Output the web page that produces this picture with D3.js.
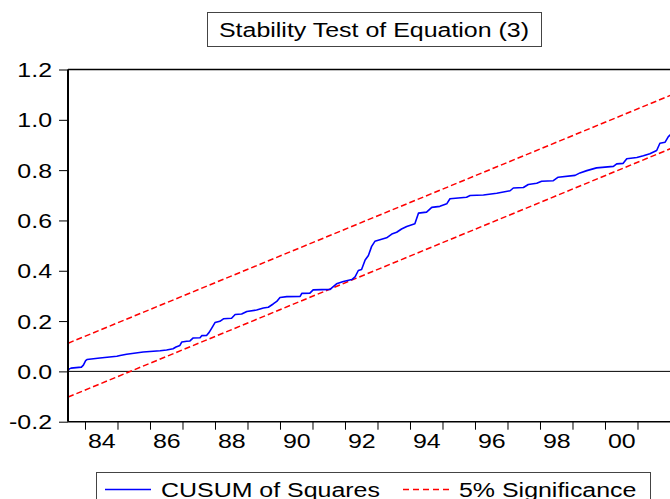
<!DOCTYPE html>
<html><head><meta charset="utf-8">
<script src="https://cdn.jsdelivr.net/npm/d3@7"></script>
<style>body{margin:0;background:#fff}svg{display:block}text{font-family:"Liberation Sans",Arial,sans-serif;fill:#000}</style>
</head><body>
<script>
// ---- data ----
const titleText = "Stability Test of Equation (3)";
const seriesNames = ["CUSUM of Squares", "5% Significance"];
const yTicks = [-0.2, 0.0, 0.2, 0.4, 0.6, 0.8, 1.0, 1.2];
const yearTicks = [1984,1985,1986,1987,1988,1989,1990,1991,1992,1993,1994,1995,1996,1997,1998,1999,2000,2001];
const yearLabels = [1984,1986,1988,1990,1992,1994,1996,1998,2000];
// CUSUM of squares (date as decimal year, value)
const cusumDates = [1983.49,1983.52,1983.57,1983.89,1983.95,1984.02,1984.06,1984.46,1984.98,1985.08,1985.28,1985.79,1986.31,1986.51,1986.71,1986.80,1986.92,1986.98,1987.13,1987.23,1987.33,1987.54,1987.59,1987.74,1987.82,1987.90,1988.00,1988.15,1988.26,1988.51,1988.62,1988.82,1988.98,1989.28,1989.49,1989.64,1989.79,1989.90,1990.00,1990.21,1990.62,1990.67,1990.92,1991.02,1991.54,1991.74,1991.95,1992.21,1992.31,1992.41,1992.51,1992.62,1992.72,1992.82,1992.92,1993.28,1993.44,1993.59,1993.74,1993.90,1994.15,1994.26,1994.51,1994.67,1994.92,1995.13,1995.23,1995.74,1995.85,1996.26,1996.67,1997.08,1997.18,1997.49,1997.64,1997.90,1998.05,1998.41,1998.56,1999.08,1999.23,1999.44,1999.74,2000.26,2000.36,2000.56,2000.67,2000.98,2001.18,2001.38,2001.59,2001.69,2001.85,2001.95,2002.05,2002.18];
const cusumValues = [0.005,0.010,0.013,0.017,0.025,0.043,0.047,0.053,0.060,0.063,0.068,0.077,0.082,0.085,0.090,0.097,0.103,0.117,0.120,0.121,0.133,0.134,0.142,0.143,0.155,0.172,0.194,0.199,0.209,0.211,0.226,0.228,0.238,0.244,0.252,0.255,0.268,0.278,0.294,0.297,0.298,0.310,0.311,0.324,0.326,0.348,0.357,0.365,0.376,0.401,0.405,0.443,0.461,0.497,0.517,0.531,0.546,0.553,0.566,0.576,0.587,0.629,0.633,0.652,0.656,0.666,0.686,0.692,0.699,0.701,0.708,0.718,0.729,0.731,0.743,0.748,0.756,0.758,0.772,0.779,0.789,0.798,0.809,0.815,0.825,0.827,0.845,0.850,0.857,0.865,0.878,0.907,0.911,0.933,0.945,1.000];
// 5% significance bounds (straight lines, endpoints)
const boundDates = [1983.48, 2002.18];
const upperValues = [0.112, 1.106];
const lowerValues = [-0.102, 0.894];

// ---- layout ----
const W = 670, H = 499;
const L = 68, R = 676, T = 69.5, B = 421.7;
const SX = 1.28, FS = 19.5;

const svg = d3.select("body").append("svg").attr("width", W).attr("height", H);
const x = d3.scaleLinear().domain([1983.477, 2002.185]).range([L, R]);
const y = d3.scaleLinear().domain([-0.2, 1.2]).range([B, T]);

svg.append("clipPath").attr("id","clip").append("rect").attr("x",L).attr("y",T).attr("width",R-L).attr("height",B-T);
const plot = svg.append("g").attr("clip-path","url(#clip)");

// zero line
plot.append("line").attr("x1",L).attr("x2",R).attr("y1",y(0)).attr("y2",y(0)).attr("stroke","#000").attr("stroke-width",1);

const bounds = [upperValues, lowerValues];
bounds.forEach(vals => {
  const pts = boundDates.map((d,i)=>[x(d), y(vals[i])]);
  plot.append("path").attr("d", d3.line()(pts)).attr("fill","none")
    .attr("stroke","#ff0000").attr("stroke-width",1.5).attr("stroke-dasharray","6,3");
});

const cpts = cusumDates.map((d,i)=>[x(d), y(cusumValues[i])]);
plot.append("path").attr("d", d3.line()(cpts)).attr("fill","none")
  .attr("stroke","#0000ff").attr("stroke-width",1.6).attr("stroke-linejoin","round");

// y axis
const ya = svg.append("g").attr("transform",`translate(${L},0)`)
  .call(d3.axisLeft(y).tickValues(yTicks).tickSize(9).tickPadding(3.5).tickFormat(d3.format(".1f")));
ya.select(".domain").remove();
ya.selectAll("line").attr("stroke","#000").attr("stroke-width",1);
ya.selectAll("text").attr("font-size",FS).attr("transform",`scale(${SX},1)`).attr("dy","0.36em")
  .text(d=> d<0 ? "-" + Math.abs(d).toFixed(1) : d.toFixed(1));

// x axis ticks
const xa = svg.append("g").attr("transform",`translate(0,${B})`)
  .call(d3.axisBottom(x).tickValues(yearTicks).tickSize(8).tickFormat(""));
xa.select(".domain").remove();
xa.selectAll("line").attr("stroke","#000").attr("stroke-width",1);
// x labels centered in the year
const xl = svg.append("g").attr("transform",`translate(0,${B})`)
  .call(d3.axisBottom(x).tickValues(yearLabels.map(v=>v+0.5)).tickSize(0).tickPadding(12.5)
    .tickFormat(d=>String(Math.floor(d)%100).padStart(2,"0")));
xl.select(".domain").remove();
xl.selectAll("text").attr("font-size",FS).attr("transform",`scale(${SX},1)`);

// frame
svg.append("line").attr("x1",L).attr("x2",R).attr("y1",T).attr("y2",T).attr("stroke","#000").attr("stroke-width",1.5);
svg.append("line").attr("x1",L).attr("x2",R).attr("y1",B).attr("y2",B).attr("stroke","#000").attr("stroke-width",1.5);
svg.append("line").attr("x1",L).attr("x2",L).attr("y1",T).attr("y2",B).attr("stroke","#000").attr("stroke-width",2);
svg.append("line").attr("x1",R).attr("x2",R).attr("y1",T).attr("y2",B).attr("stroke","#000").attr("stroke-width",1.5);

function stext(g, tx, ty, str, anchor){
  return g.append("text").attr("transform",`translate(${tx},${ty}) scale(${SX},1)`)
    .attr("text-anchor",anchor).attr("font-size",FS).text(str);
}

// title
svg.append("rect").attr("x",207.5).attr("y",12.5).attr("width",334).attr("height",34)
  .attr("fill","#fff").attr("stroke","#444").attr("stroke-width",1);
stext(svg, 374, 36.5, titleText, "middle");

// legend
const lg = svg.append("g");
lg.append("rect").attr("x",96.5).attr("y",472.5).attr("width",554).attr("height",40)
  .attr("fill","#fff").attr("stroke","#444").attr("stroke-width",1);
lg.append("line").attr("x1",105).attr("x2",151).attr("y1",489.5).attr("y2",489.5).attr("stroke","#0000ff").attr("stroke-width",1.3);
stext(lg, 161, 496.5, seriesNames[0], "start");
lg.append("line").attr("x1",403).attr("x2",449).attr("y1",489.5).attr("y2",489.5).attr("stroke","#ff0000").attr("stroke-width",1.3).attr("stroke-dasharray","6,4");
stext(lg, 459, 496.5, seriesNames[1], "start");
</script>
</body></html>
